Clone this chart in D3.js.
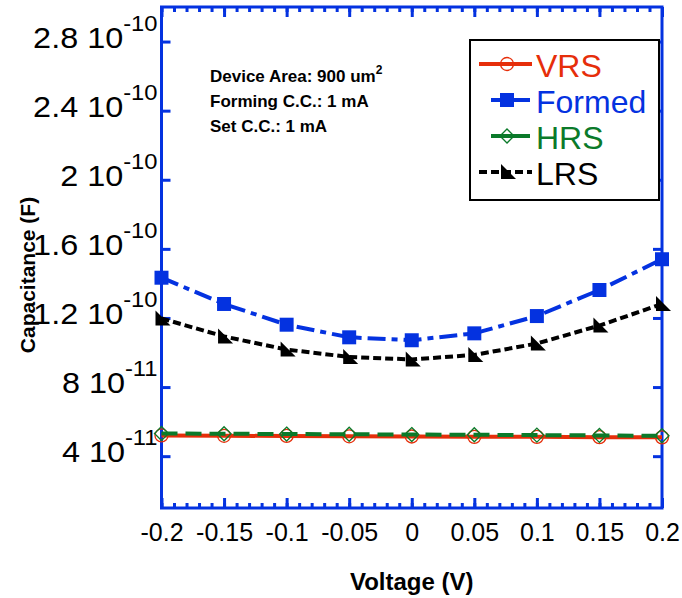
<!DOCTYPE html>
<html>
<head>
<meta charset="utf-8">
<script src="https://cdn.jsdelivr.net/npm/d3@7"></script>
<style>
  body { margin: 0; background: #fff; }
  svg { display: block; font-family: "Liberation Sans", Arial, sans-serif; }
</style>
</head>
<body>
<div id="chart"></div>
<script>
// SVG size and plot frame
var svgWidth = 682;
var svgHeight = 598;
var margin = {top: 7, right: 20, bottom: 90, left: 161.5};
var chartWidth = svgWidth - margin.left - margin.right;
var chartHeight = svgHeight - margin.top - margin.bottom;

var axisBlue = "#0432e0";

// data (capacitance in F)
var voltage = [-0.2, -0.15, -0.1, -0.05, 0, 0.05, 0.1, 0.15, 0.2];
var vrs    = [5.20e-11, 5.18e-11, 5.17e-11, 5.15e-11, 5.14e-11, 5.12e-11, 5.12e-11, 5.10e-11, 5.09e-11];
var formed = [1.433e-10, 1.281e-10, 1.161e-10, 1.088e-10, 1.071e-10, 1.111e-10, 1.211e-10, 1.362e-10, 1.54e-10];
var hrs    = [5.31e-11, 5.30e-11, 5.28e-11, 5.27e-11, 5.25e-11, 5.24e-11, 5.22e-11, 5.20e-11, 5.18e-11];
var lrs    = [1.197e-10, 1.093e-10, 1.017e-10, 0.974e-10, 0.96e-10, 0.986e-10, 1.052e-10, 1.156e-10, 1.281e-10];

// ticks
var xTicks = [-0.2, -0.15, -0.1, -0.05, 0, 0.05, 0.1, 0.15, 0.2];
var xTickLabels = ["-0.2", "-0.15", "-0.1", "-0.05", "0", "0.05", "0.1", "0.15", "0.2"];
var xMinorTicks = d3.range(-20, 21).map(d => d / 100);
var yTicks = [4e-11, 8e-11, 1.2e-10, 1.6e-10, 2e-10, 2.4e-10, 2.8e-10];
var yTickMantissa = ["4", "8", "1.2", "1.6", "2", "2.4", "2.8"];
var yTickExponent = ["-11", "-11", "-10", "-10", "-10", "-10", "-10"];

var noteLines = ["Device Area: 900 um", "Forming C.C.: 1 mA", "Set C.C.: 1 mA"];

// series styling
var series = [
  {name: "VRS", values: vrs, color: "#e62e0a", dash: null, width: 4, marker: "circle"},
  {name: "Formed", values: formed, color: "#0432e0", dash: "18,6,6,6", width: 4, marker: "square"},
  {name: "HRS", values: hrs, color: "#0b7a2a", dash: "16,8", width: 4, marker: "diamond"},
  {name: "LRS", values: lrs, color: "#000000", dash: "8,4", width: 4, marker: "triangle"}
];

var svg = d3.select("#chart").append("svg")
  .attr("width", svgWidth)
  .attr("height", svgHeight);

var xScale = d3.scaleLinear().domain([-0.2, 0.2]).range([margin.left, margin.left + chartWidth]);
var yScale = d3.scaleLinear().domain([1e-11, 3e-10]).range([margin.top + chartHeight, margin.top]);

function styleAxis(g) {
  g.select(".domain").remove();
  g.selectAll(".tick line").attr("stroke", axisBlue).attr("stroke-width", 3);
}

// bottom axis (major + minor, ticks inward)
svg.append("g")
  .attr("transform", `translate(0, ${margin.top + chartHeight})`)
  .call(d3.axisBottom(xScale).tickValues(xMinorTicks).tickSize(-5).tickFormat(""))
  .call(styleAxis);
var xAxis = svg.append("g")
  .attr("transform", `translate(0, ${margin.top + chartHeight})`)
  .call(d3.axisBottom(xScale).tickValues(xTicks).tickSize(-10).tickPadding(15)
    .tickFormat((d, i) => xTickLabels[i]))
  .call(styleAxis);
xAxis.selectAll("text")
  .attr("fill", "#000")
  .style("font-size", "25px")
  .style("font-family", "Liberation Sans, Arial, sans-serif");

// top axis mirror
svg.append("g")
  .attr("transform", `translate(0, ${margin.top})`)
  .call(d3.axisTop(xScale).tickValues(xMinorTicks).tickSize(-5).tickFormat(""))
  .call(styleAxis);
svg.append("g")
  .attr("transform", `translate(0, ${margin.top})`)
  .call(d3.axisTop(xScale).tickValues(xTicks).tickSize(-10).tickFormat(""))
  .call(styleAxis);

// left + right axes (major only)
svg.append("g")
  .attr("transform", `translate(${margin.left}, 0)`)
  .call(d3.axisLeft(yScale).tickValues(yTicks).tickSize(-9).tickFormat(""))
  .call(styleAxis);
svg.append("g")
  .attr("transform", `translate(${margin.left + chartWidth}, 0)`)
  .call(d3.axisRight(yScale).tickValues(yTicks).tickSize(-9).tickFormat(""))
  .call(styleAxis);

// y tick labels in "2.8 10^-10" form (slightly wide glyphs as in the original)
var yLbl = svg.append("g").selectAll("text")
  .data(yTicks)
  .enter()
  .append("text")
  .attr("transform", d => `translate(${margin.left - 4}, ${yScale(d) + 6}) scale(1.08, 1)`)
  .attr("text-anchor", "end")
  .attr("fill", "#000");
yLbl.append("tspan").style("font-size", "30px").text((d, i) => yTickMantissa[i] + " 10");
yLbl.append("tspan").style("font-size", "22px").attr("dy", -17).text((d, i) => yTickExponent[i]);

// frame
svg.append("rect")
  .attr("x", margin.left)
  .attr("y", margin.top)
  .attr("width", chartWidth)
  .attr("height", chartHeight)
  .attr("fill", "none")
  .attr("stroke", axisBlue)
  .attr("stroke-width", 3);

// markers
function markerPath(type) {
  if (type === "circle") return d3.symbol(d3.symbolCircle, Math.PI * 6.5 * 6.5)();
  if (type === "square") return d3.symbol(d3.symbolSquare, 14 * 14)();
  if (type === "diamond") return "M0,-7L7,0L0,7L-7,0Z";
  return "M-6,-8L9,7L-6,7Z";
}
function drawMarker(sel, s) {
  var hollow = (s.marker === "circle" || s.marker === "diamond");
  sel.attr("d", markerPath(s.marker))
    .attr("fill", hollow ? "none" : s.color)
    .attr("stroke", s.color)
    .attr("stroke-width", hollow ? 1.3 : 0);
}

var line = d3.line()
  .x(d => xScale(d[0]))
  .y(d => yScale(d[1]));

series.forEach(function(s) {
  var pts = voltage.map((v, i) => [v, s.values[i]]);
  svg.append("path")
    .datum(pts)
    .attr("d", line)
    .attr("fill", "none")
    .attr("stroke", s.color)
    .attr("stroke-width", s.width)
    .attr("stroke-dasharray", s.dash);
  svg.append("g").selectAll("path")
    .data(pts)
    .enter()
    .append("path")
    .attr("transform", d => `translate(${xScale(d[0])}, ${yScale(d[1])})`)
    .call(drawMarker, s);
});

// annotation
var note = svg.append("g").attr("font-weight", "bold").attr("font-size", "17px");
noteLines.forEach(function(t, i) {
  var txt = note.append("text").attr("x", 210).attr("y", 82 + i * 25).text(t);
  if (i === 0) txt.append("tspan").attr("dy", -8).style("font-size", "12px").text("2");
});

// legend
var legend = svg.append("g");
legend.append("rect")
  .attr("x", 470).attr("y", 40)
  .attr("width", 189).attr("height", 160)
  .attr("fill", "#fff")
  .attr("stroke", "#000")
  .attr("stroke-width", 2);
var legendX = [[479, 532], [491, 530], [491, 530], [479, 532]];
series.forEach(function(s, i) {
  var cy = 64 + i * 36;
  legend.append("line")
    .attr("x1", legendX[i][0]).attr("x2", legendX[i][1])
    .attr("y1", cy).attr("y2", cy)
    .attr("stroke", s.color)
    .attr("stroke-width", s.width)
    .attr("stroke-dasharray", s.marker === "triangle" ? "8,4" : null);
  legend.append("path")
    .attr("transform", `translate(507, ${cy})`)
    .call(drawMarker, s);
  legend.append("text")
    .attr("x", 536).attr("y", cy + 13)
    .attr("fill", s.color)
    .style("font-size", "32px")
    .text(s.name);
});

// axis titles
svg.append("text")
  .attr("x", margin.left + chartWidth / 2)
  .attr("y", 590)
  .attr("text-anchor", "middle")
  .attr("font-weight", "bold")
  .style("font-size", "24px")
  .text("Voltage (V)");

svg.append("text")
  .attr("transform", "translate(35, 275) rotate(-90)")
  .attr("text-anchor", "middle")
  .attr("font-weight", "bold")
  .style("font-size", "21px")
  .text("Capacitance (F)");
</script>
</body>
</html>
